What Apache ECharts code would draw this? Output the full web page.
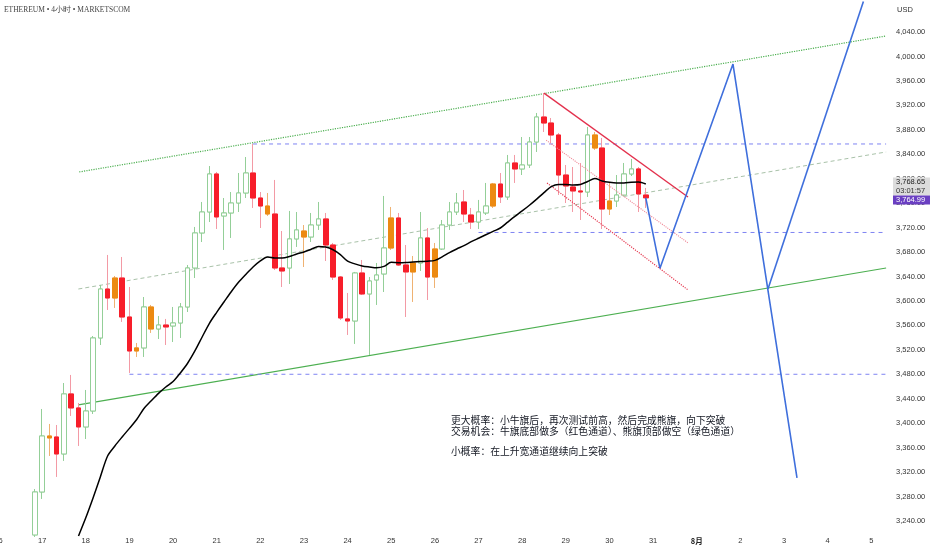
<!DOCTYPE html>
<html><head><meta charset="utf-8">
<script src="https://cdn.jsdelivr.net/npm/echarts@6/dist/echarts.min.js"></script>
<style>html,body{margin:0;padding:0;background:#fff}#c{width:932px;height:550px}</style>
</head><body><div id="c"></div>
<script>
// Time unit: day of July (32 = Aug 1). 4h bars starting Jul 16 20:00.
const firstBarDay = 16 + 20 / 24;
const barStepDay = 4 / 24;

// [open, close, low, high]
const ohlc = [
 [3217.1,3287.4,3213.8,3292.3],[3287.4,3379.0,3276.0,3423.2],[3379.0,3375.8,3346.3,3398.7],[3377.4,3349.6,3312.0,3397.0],
 [3349.6,3447.8,3338.2,3465.7],[3447.8,3424.9,3411.8,3478.9],[3424.9,3393.8,3362.7,3433.0],[3393.8,3419.9,3374.1,3454.3],
 [3419.9,3539.4,3415.0,3542.6],[3539.4,3619.5,3527.9,3626.1],[3619.5,3604.8,3585.2,3675.2],[3604.8,3637.5,3588.5,3640.8],
 [3637.5,3573.7,3565.6,3671.9],[3573.7,3518.1,3482.1,3622.8],[3518.1,3523.1,3508.3,3531.2],[3523.1,3590.1,3508.3,3606.4],
 [3590.1,3554.1,3547.6,3593.4],[3554.1,3560.6,3537.7,3575.3],[3560.6,3557.4,3527.9,3570.5],[3559.0,3563.9,3532.8,3590.1],
 [3563.9,3590.1,3539.4,3596.6],[3590.1,3653.9,3581.9,3658.8],[3653.9,3711.2,3637.5,3721.0],[3711.2,3745.5,3696.4,3761.9],
 [3745.5,3807.7,3729.1,3820.7],[3807.7,3737.4,3717.7,3811.0],[3739.0,3743.9,3683.4,3768.4],[3743.9,3760.2,3703.0,3778.2],
 [3760.2,3776.6,3745.5,3809.3],[3776.6,3809.3,3768.4,3835.5],[3809.3,3768.4,3752.1,3856.8],[3768.4,3755.3,3719.3,3778.2],
 [3755.3,3742.2,3739.0,3776.6],[3742.2,3653.9,3650.6,3797.9],[3653.9,3649.0,3622.8,3714.4],[3653.9,3701.4,3627.7,3747.2],
 [3701.4,3716.1,3688.3,3745.5],[3714.4,3704.6,3655.5,3724.2],[3704.6,3724.2,3696.4,3743.9],[3724.2,3734.1,3716.1,3761.9],
 [3734.1,3691.5,3665.3,3743.9],[3691.5,3639.1,3634.3,3694.8],[3639.1,3572.1,3568.8,3640.8],[3570.5,3567.2,3544.3,3613.0],
 [3567.2,3645.7,3529.6,3647.4],[3645.7,3611.4,3609.7,3667.0],[3611.4,3632.6,3511.6,3639.1],[3634.3,3642.4,3593.4,3662.1],
 [3644.1,3686.6,3614.6,3771.7],[3686.6,3735.7,3683.4,3753.7],[3735.7,3658.8,3657.2,3743.9],[3658.8,3647.4,3573.7,3691.5],
 [3647.4,3662.1,3598.3,3673.5],[3662.1,3703.0,3649.0,3745.5],[3703.0,3639.1,3601.5,3719.3],[3639.1,3685.0,3621.2,3694.8],
 [3685.0,3724.2,3683.4,3732.4],[3724.2,3745.5,3716.1,3761.9],[3745.5,3760.2,3740.6,3776.6],[3761.9,3742.2,3729.1,3781.5],
 [3740.6,3729.1,3717.7,3752.1],[3729.1,3745.5,3717.7,3765.2],[3743.9,3755.3,3740.6,3793.0],[3755.3,3791.3,3752.1,3793.0],
 [3791.3,3770.1,3760.2,3809.3],[3770.1,3825.7,3765.2,3838.8],[3825.7,3815.9,3793.0,3838.8],[3815.9,3822.4,3806.0,3868.2],
 [3822.4,3860.0,3817.5,3868.2],[3860.0,3900.9,3843.7,3907.5],[3900.9,3891.1,3876.4,3940.2],[3891.1,3871.5,3858.4,3899.3],
 [3871.5,3806.0,3773.3,3874.8],[3806.0,3788.1,3760.2,3822.4],[3786.4,3779.9,3745.5,3819.1],[3779.9,3778.2,3732.4,3825.7],
 [3778.2,3871.5,3770.1,3884.6],[3871.5,3850.2,3847.0,3876.4],[3850.2,3750.4,3717.7,3866.6],[3750.4,3763.5,3740.6,3793.0],
 [3763.5,3773.3,3753.7,3806.0],[3773.3,3807.7,3771.7,3825.7],[3807.7,3815.9,3804.4,3832.2],[3815.9,3775.0,3745.5,3819.1],
 [3773.3,3768.65,3752.1,3784.8]
];
// bars highlighted (orange) on the reference
const signalBars = [2,11,14,16,32,37,49,52,55,63,77,79];

// moving average (black line), starting at bar index maStart
const maStart = 6;
const maValues = [
 3215.5,3245.2,3277.6,3312.0,3346.3,3362.7,3377.4,3391.5,3405.9,3423.9,3436.6,3448.8,3459.2,3468.2,
 3482.1,3498.0,3518.1,3541.0,3563.4,3581.3,3598.3,3615.1,3630.5,3643.4,3655.5,3665.5,3671.9,3670.3,
 3670.3,3672.7,3676.8,3680.1,3684.6,3688.9,3688.2,3683.7,3675.8,3665.0,3660.6,3657.2,3655.5,3654.2,
 3656.5,3663.1,3662.6,3662.9,3663.7,3664.4,3665.0,3666.3,3672.1,3679.1,3685.0,3690.5,3696.9,3702.6,
 3708.2,3713.8,3719.3,3728.8,3738.2,3747.2,3756.6,3766.6,3777.3,3786.9,3790.5,3790.5,3789.7,3790.5,
 3795.4,3800.3,3796.2,3794.1,3793.0,3793.0,3794.1,3794.6,3791.3
];

// drawn lines: [day, price]
const upperChannel = [[17.85, 3811.0], [36.34, 4033.5]];
const midChannel   = [[17.83, 3619.5], [36.34, 3843.7]];
const lowerChannel = [[17.83, 3429.8], [36.34, 3653.9]];
const levelHigh = [[21.833, 3856.8], [36.34, 3856.8]];
const levelMid  = [[27.0, 3712.0], [36.34, 3712.0]];
const levelLow  = [[19.0, 3480.0], [36.34, 3480.0]];
const flagTop    = [[28.5, 3940.0], [31.8, 3770.0]];
const flagMid    = [[28.55, 3863.0], [31.8, 3695.0]];
const flagBottom = [[28.57, 3793.0], [31.8, 3618.0]];
const pathMain = [[30.833, 3768.65], [31.158, 3653.4], [32.831, 3987.6], [34.298, 3310.3]];
const pathAlt  = [[33.633, 3619.5], [35.82, 4090.0]];

const xTickLabels = ['16','17','18','19','20','21','22','23','24','25','26','27','28','29','30','31','8月','2','3','4','5'];
const lastPrice = 3768.65;
const markPrice = 3764.99;
const countdown = '03:01:57';
const notes = [
 '更大概率：小牛旗后，再次测试前高，然后完成熊旗，向下突破',
 '交易机会：牛旗底部做多（红色通道）、熊旗顶部做空（绿色通道）',
 '',
 '小概率：在上升宽通道继续向上突破'
];
const titleText = 'ETHEREUM • 4小时 • MARKETSCOM';

const UP = '#94cf98', DOWN = '#f71e2a', DOWN_WICK = '#f39aa5', SIG = '#ec8a12', SIG_WICK = '#efb272';
const barTime = i => firstBarDay + i * barStepDay;
const isSig = new Set(signalBars);

const fullBars = ohlc.map((c, i) => {
  const it = { value: [barTime(i), c[0], c[1], c[2], c[3]] };
  if (isSig.has(i)) it.itemStyle = { color: SIG, color0: SIG, borderColor: SIG_WICK, borderColor0: SIG_WICK };
  return it;
});
const bodyBars = ohlc.map((c, i) => {
  const it = { value: [barTime(i), c[0], c[1], Math.min(c[0], c[1]), Math.max(c[0], c[1])] };
  if (isSig.has(i)) it.itemStyle = { color: SIG, color0: SIG, borderColor: SIG, borderColor0: SIG };
  return it;
});
const maData = maValues.map((v, k) => [barTime(maStart + k), v]);

const lineS = (data, color, type, width, z) => ({
  type: 'line', data, symbol: 'none', silent: true, z: z || 3,
  lineStyle: { color, type, width }
});

const fmtPrice = v => v.toLocaleString('en-US', { minimumFractionDigits: 2, maximumFractionDigits: 2 });

const chart = echarts.init(document.getElementById('c'), null, { renderer: 'canvas' });
chart.setOption({
  animation: false,
  backgroundColor: '#ffffff',
  grid: { left: -1.5, right: 45.9, top: -16.9, bottom: 4.6, containLabel: false, outerBoundsMode: 'none' },
  xAxis: {
    type: 'value', min: 16, max: 36.34, interval: 1,
    axisLine: { show: false }, axisTick: { show: false }, splitLine: { show: false },
    axisLabel: {
      inside: true, margin: 0, fontSize: 7.5, color: '#333', fontFamily: 'Liberation Sans',
      hideOverlap: false,
      formatter: v => {
        if (Math.abs(v - Math.round(v)) > 1e-6) return '';
        const s = xTickLabels[Math.round(v) - 16];
        if (s === undefined) return '';
        return s === '8月' ? '{b|8月}' : s;
      },
      rich: { b: { fontWeight: 'bold', fontSize: 7.5, color: '#222', fontFamily: 'Noto Sans CJK SC' } }
    }
  },
  yAxis: {
    type: 'value', position: 'right', min: 3200, max: 4120, interval: 40,
    axisLine: { show: false }, axisTick: { show: false }, splitLine: { show: false },
    axisLabel: {
      margin: 10, fontSize: 7.5, color: '#333', fontFamily: 'Liberation Sans',
      formatter: v => (v < 3240 || v > 4040) ? '' : fmtPrice(v)
    }
  },
  series: [
    lineS(upperChannel, '#4caf50', 'dotted', 1.2),
    lineS(midChannel, '#a9c2a9', [4, 3], 1),
    lineS(lowerChannel, '#4caf50', 'solid', 1.2),
    lineS(levelHigh, '#7f84f2', [4, 4], 1),
    lineS(levelMid, '#7f84f2', [4, 4], 1),
    lineS(levelLow, '#7f84f2', [4, 4], 1),
    {
      type: 'candlestick', data: fullBars, barWidth: 5, z: 4,
      encode: { x: 0, y: [1, 2, 3, 4] },
      itemStyle: { color: '#ffffff', color0: DOWN, borderColor: UP, borderColor0: DOWN_WICK, borderWidth: 1 }
    },
    {
      type: 'candlestick', data: bodyBars, barWidth: 5, z: 5,
      encode: { x: 0, y: [1, 2, 3, 4] },
      itemStyle: { color: '#ffffff', color0: DOWN, borderColor: UP, borderColor0: DOWN, borderWidth: 1 }
    },
    lineS(flagTop, '#e3304c', 'solid', 1.3, 6),
    lineS(flagMid, '#f08a98', 'dotted', 1.1, 6),
    lineS(flagBottom, '#e53950', 'dotted', 1.2, 6),
    Object.assign(lineS(maData, '#000000', 'solid', 1.5, 7), { smooth: 0.3 }),
    lineS(pathMain, '#3f6fdc', 'solid', 1.6, 8),
    lineS(pathAlt, '#3f6fdc', 'solid', 1.6, 8)
  ]
});

const yMark = chart.convertToPixel({ gridIndex: 0 }, [30, markPrice])[1];
const boxX = 893, boxW = 37;
const gfx = [
  { type: 'text', left: 4, top: 6, style: { text: titleText, fontSize: 7.5, fill: '#444', fontFamily: 'Liberation Serif' } },
  { type: 'text', left: 897, top: 6, style: { text: 'USD', fontSize: 7.5, fill: '#333', fontFamily: 'Liberation Sans' } },
  { type: 'rect', shape: { x: boxX, y: yMark - 22.5, width: boxW, height: 18 }, style: { fill: '#dcdcdc' }, z: 100 },
  { type: 'text', x: boxX + 3, y: yMark - 18, style: { text: fmtPrice(lastPrice), fontSize: 7.5, fill: '#222', fontFamily: 'Liberation Sans', verticalAlign: 'middle' }, z: 101 },
  { type: 'text', x: boxX + 3, y: yMark - 9.5, style: { text: countdown, fontSize: 7.5, fill: '#333', fontFamily: 'Liberation Sans', verticalAlign: 'middle' }, z: 101 },
  { type: 'rect', shape: { x: boxX, y: yMark - 4.5, width: boxW, height: 9 }, style: { fill: '#6a3fc2' }, z: 100 },
  { type: 'text', x: boxX + 3, y: yMark, style: { text: fmtPrice(markPrice), fontSize: 7.5, fill: '#ffffff', fontFamily: 'Liberation Sans', verticalAlign: 'middle' }, z: 101 }
];
const noteY = [420, 431, 440, 451];
notes.forEach((t, k) => {
  if (!t) return;
  gfx.push({ type: 'text', x: 451, y: noteY[k], style: { text: t, fontSize: 9.8, fill: '#131722', fontFamily: 'Noto Sans CJK SC', verticalAlign: 'middle' }, z: 110 });
});
chart.setOption({ graphic: gfx });
</script>
</body></html>
